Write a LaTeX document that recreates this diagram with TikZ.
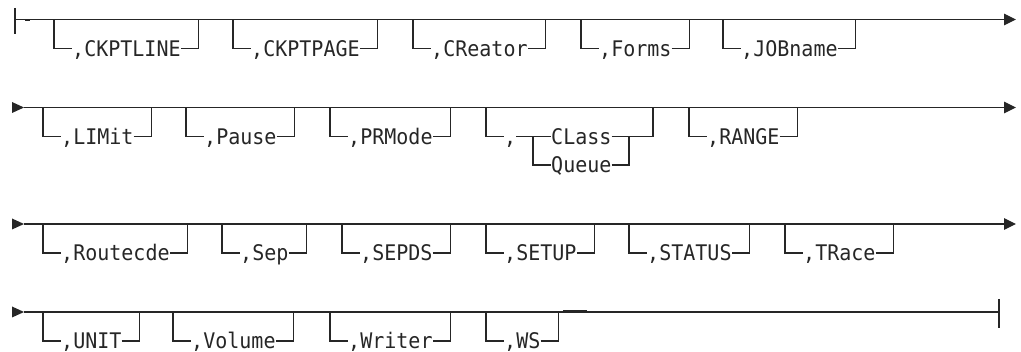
\documentclass[tikz,border=0pt]{standalone}
\usepackage{fontspec}
\usetikzlibrary{arrows.meta}
\newfontfamily\synfont[FakeStretch=0.931]{DejaVu Sans Mono}
\definecolor{ink}{HTML}{262626}
\tikzset{
  ln/.style={draw=ink, line width=1.2pt},
  lbl/.style={anchor=west, inner sep=0pt, text height=15.7pt, text depth=0pt,
    font=\synfont\fontsize{21.5pt}{21.5pt}\selectfont, text=ink},
  tip/.style={fill=ink},
  endtip/.style={-{Triangle[length=12pt,width=11.5pt]}}
}
% #1 name, #2 left x, #3 main-line y, #4 number of characters, #5 text
\newcommand\optbox[5]{%
  \pgfmathsetmacro\xR{#2+12.05*(#4+3)}%
  \node[lbl] (#1) at (#2+18,#3+29) {#5};
  \draw[ln] (#2,#3) -- (#2,#3+29) -- (#1.west);
  \draw[ln] (#1.east) -- (\xR,#3+29) -- (\xR,#3);
}
\newcommand\startarrow[2]{%
  \fill[tip] (#1,#2-5.5) -- (#1+12,#2) -- (#1,#2+5.5) -- cycle;
}
\begin{document}
\begin{tikzpicture}[x=1pt,y=-1pt]
\useasboundingbox (0,0) rectangle (1021,352);
% ---------- row 1 ----------
\coordinate (r1s) at (15,19.5);
\coordinate (r1e) at (1016,19.5);
\draw[ln] (15,8) -- (15,34);
\draw[ln,endtip] (r1s) -- (r1e);
\draw[draw=ink,line width=1.6pt] (25,20.3) -- (30,20.3);
\optbox{ckptline}{54}{19.5}{9}{,CKPTLINE}
\optbox{ckptpage}{233}{19.5}{9}{,CKPTPAGE}
\optbox{creator}{413}{19.5}{8}{,CReator}
\optbox{forms}{581}{19.5}{6}{,Forms}
\optbox{jobname}{723}{19.5}{8}{,JOBname}
% ---------- row 2 ----------
\coordinate (r2s) at (24,107.5);
\coordinate (r2e) at (1016,107.5);
\startarrow{12}{107.5}
\draw[ln,endtip] (r2s) -- (r2e);
\optbox{limit}{43}{107.5}{6}{,LIMit}
\optbox{pause}{186}{107.5}{6}{,Pause}
\optbox{prmode}{330}{107.5}{7}{,PRMode}
\node[lbl] (comma) at (504,136.5) {,};
\node[lbl] (class) at (551,136.5) {CLass};
\node[lbl] (queue) at (551,165) {Queue};
\draw[ln] (486,107.5) -- (486,136.5) -- (comma.west);
\draw[ln] (comma.east) -- (class.west);
\draw[ln] (533,136.5) -- (533,165) -- (queue.west);
\draw[ln] (queue.east) -- (629,165) -- (629,136.5);
\draw[ln] (class.east) -- (653,136.5) -- (653,107.5);
\optbox{range}{689}{107.5}{6}{,RANGE}
% ---------- row 3 ----------
\coordinate (r3s) at (24,224);
\coordinate (r3e) at (1016,224);
\startarrow{12}{224}
\draw[ln,endtip] (r3s) -- (r3e);
\optbox{routecde}{43}{224}{9}{,Routecde}
\optbox{sep}{222}{224}{4}{,Sep}
\optbox{sepds}{342}{224}{6}{,SEPDS}
\optbox{setup}{486}{224}{6}{,SETUP}
\optbox{status}{629}{224}{7}{,STATUS}
\optbox{trace}{785}{224}{6}{,TRace}
% ---------- row 4 ----------
\coordinate (r4s) at (24,312);
\coordinate (r4e) at (999,312);
\startarrow{12}{312}
\draw[ln] (r4s) -- (r4e);
\draw[ln] (999,299) -- (999,328);
\draw[draw=ink,line width=1.6pt] (563,311) -- (587,311);
\optbox{unit}{43}{312}{5}{,UNIT}
\optbox{volume}{173}{312}{7}{,Volume}
\optbox{writer}{330}{312}{7}{,Writer}
\optbox{ws}{486}{312}{3}{,WS}
\end{tikzpicture}
\end{document}
